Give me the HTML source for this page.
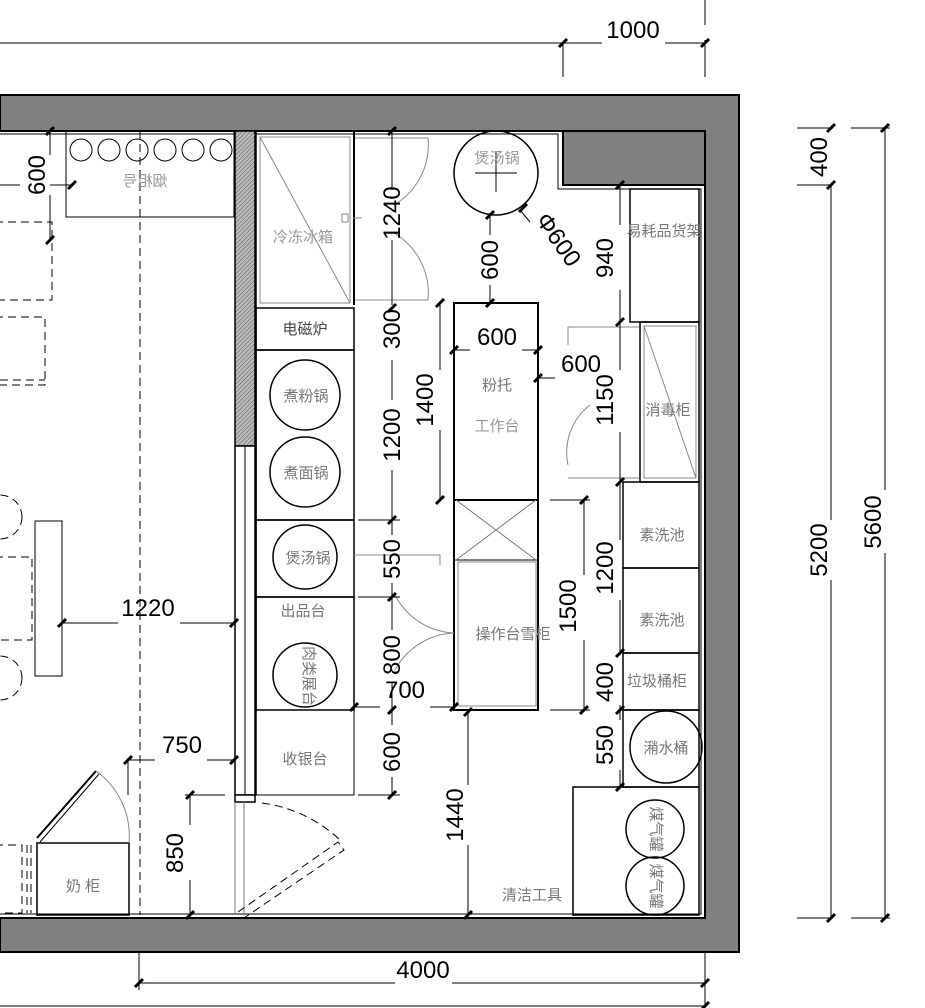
<!DOCTYPE html>
<html><head><meta charset="utf-8"><style>
html,body{margin:0;padding:0;background:#fff;width:925px;height:1008px;overflow:hidden}
svg{display:block}
text{font-family:"Liberation Sans","Noto Sans CJK SC",sans-serif}
.d{font-size:24px;fill:#000}
.l{font-size:15px;fill:#777}
</style></head><body>
<svg width="925" height="1008" viewBox="0 0 925 1008" xmlns="http://www.w3.org/2000/svg">
<defs>
<pattern id="h" width="3" height="3" patternUnits="userSpaceOnUse" patternTransform="rotate(45)"><rect width="3" height="3" fill="#bbb"/><line x1="0" y1="0" x2="0" y2="3" stroke="#555" stroke-width="1"/></pattern>
<g id="t"><line x1="-4" y1="4" x2="4" y2="-4" stroke="#000" stroke-width="3"/></g>
</defs>
<!-- walls -->
<path d="M0 95 H739 V952 H0 V918 H705 V131 H0 Z" fill="#808080" stroke="#000" stroke-width="2"/>
<rect x="563" y="131" width="142" height="54" fill="#808080" stroke="#000" stroke-width="2"/>
<path d="M0 134 H558 V189 H701 V914 H0" fill="none" stroke="#000" stroke-width="1"/>

<!-- top dim -->
<g stroke="#000" stroke-width="1" fill="none">
<line x1="0" y1="43" x2="602" y2="43"/><line x1="665" y1="43" x2="705" y2="43"/>
<line x1="563" y1="43" x2="563" y2="77"/><line x1="705" y1="0" x2="705" y2="25"/><line x1="705" y1="40" x2="705" y2="77"/>
<!-- bottom dim -->
<line x1="139" y1="983" x2="395" y2="983"/><line x1="452" y1="983" x2="705" y2="983"/>
<line x1="139" y1="952" x2="139" y2="990"/><line x1="705" y1="952" x2="705" y2="1008"/>
<line x1="0" y1="1006" x2="705" y2="1006"/>
<!-- right dims -->
<line x1="797" y1="128" x2="833" y2="128"/><line x1="851" y1="128" x2="890" y2="128"/>
<line x1="797" y1="185" x2="833" y2="185"/>
<line x1="831" y1="185" x2="831" y2="520"/><line x1="831" y1="580" x2="831" y2="918"/>
<line x1="885" y1="128" x2="885" y2="490"/><line x1="885" y1="553" x2="885" y2="918"/>
<line x1="797" y1="918" x2="833" y2="918"/><line x1="851" y1="918" x2="890" y2="918"/>
</g>
<use href="#t" x="563" y="43"/><use href="#t" x="705" y="43"/><use href="#t" x="139" y="983"/><use href="#t" x="705" y="983"/><use href="#t" x="705" y="1006"/>
<use href="#t" x="831" y="128"/><use href="#t" x="831" y="185"/><use href="#t" x="885" y="128"/><use href="#t" x="831" y="918"/><use href="#t" x="885" y="918"/>
<text class="d" x="633" y="38" text-anchor="middle">1000</text>
<text class="d" x="423" y="978" text-anchor="middle">4000</text>
<text class="d" transform="translate(827,157) rotate(-90)" text-anchor="middle">400</text>
<text class="d" transform="translate(827,550) rotate(-90)" text-anchor="middle">5200</text>
<text class="d" transform="translate(881,522) rotate(-90)" text-anchor="middle">5600</text>

<!-- partition -->
<rect x="235" y="131" width="20" height="315" fill="url(#h)" stroke="#000" stroke-width="1.5"/>
<rect x="235" y="446" width="20" height="349" fill="#fff" stroke="#000" stroke-width="1.5"/>
<line x1="245" y1="446" x2="245" y2="795" stroke="#000"/>
<rect x="235" y="795" width="20" height="7" fill="#fff" stroke="#000" stroke-width="1.5"/>
<line x1="235" y1="802" x2="235" y2="915" stroke="#777"/><line x1="244" y1="802" x2="244" y2="915" stroke="#777"/>

<g fill="none" stroke="#000" stroke-width="1.5">
<!-- left kitchen column -->
<line x1="256" y1="131" x2="256" y2="795"/>
<line x1="354" y1="131" x2="354" y2="305" stroke-width="2"/>
<rect x="256" y="308" width="98" height="42"/>
<rect x="256" y="350" width="98" height="170"/>
<rect x="256" y="520" width="98" height="77"/>
<rect x="256" y="597" width="98" height="113"/>
<rect x="256" y="710" width="98" height="85" stroke-width="1"/>
<circle cx="305" cy="395" r="35"/><circle cx="305" cy="472" r="35"/>
<circle cx="305" cy="557" r="32"/><circle cx="305" cy="675" r="32"/>
<!-- top pot -->
<circle cx="496" cy="173" r="42"/>
<!-- tables -->
<rect x="454" y="303" width="84" height="197" stroke-width="2"/>
<rect x="454" y="500" width="84" height="210" stroke-width="2"/>
<!-- right column -->
<rect x="630" y="189" width="69" height="133"/>
<rect x="640" y="322" width="59" height="160"/>
<rect x="623" y="482" width="76" height="86"/>
<rect x="623" y="568" width="76" height="85"/>
<rect x="623" y="653" width="76" height="57"/>
<rect x="623" y="710" width="76" height="77"/>
<circle cx="666" cy="747" r="36"/>
<rect x="573" y="787" width="126" height="128"/>
<circle cx="655" cy="829" r="29"/><circle cx="655" cy="886" r="29"/>
<!-- left area -->
<rect x="66" y="131" width="168" height="86" stroke-width="1"/>
<rect x="35" y="521" width="27" height="155" stroke-width="1"/>
<rect x="37" y="843" width="92" height="72"/>
<line x1="37" y1="838" x2="96" y2="771" stroke-width="2"/><line x1="40" y1="842" x2="99" y2="774" stroke-width="1"/>
</g>
<g fill="none" stroke="#000" stroke-width="1">
<circle cx="81" cy="150" r="11"/><circle cx="109" cy="150" r="11"/><circle cx="137" cy="150" r="11"/><circle cx="165" cy="150" r="11"/><circle cx="193" cy="150" r="11"/><circle cx="221" cy="150" r="11"/>
<line x1="475" y1="173" x2="517" y2="173"/><line x1="496" y1="152" x2="496" y2="192"/>
<line x1="454" y1="560" x2="538" y2="560"/>
<line x1="456" y1="500" x2="536" y2="560" stroke="#777"/><line x1="536" y1="500" x2="456" y2="560" stroke="#777"/>
</g>
<!-- gray inner items -->
<g fill="none" stroke="#888" stroke-width="1">
<rect x="260" y="137" width="90" height="166"/>
<line x1="260" y1="137" x2="350" y2="303"/>
<rect x="458" y="562" width="78" height="144"/>
<rect x="644" y="326" width="52" height="152"/>
<line x1="644" y1="326" x2="696" y2="478"/>
<path d="M355 138 H428 M428 138 A70 70 0 0 1 394 205 M394 233 A70 70 0 0 1 428 300 M355 300 H428"/>
<path d="M639 327 H568 V345 M568 465 A60 60 0 0 1 590 405 M568 478 H639"/>
<path d="M354 555 H440 V565 M395 595 A70 70 0 0 0 454 633 M395 670 A70 70 0 0 1 454 633"/>
<path d="M96 771 A80 80 0 0 1 129 843"/>
<line x1="353" y1="218" x2="362" y2="218"/>
</g>
<rect x="342" y="214" width="6" height="8" fill="#fff" stroke="#888"/>
<!-- dashed -->
<g fill="none" stroke="#000" stroke-width="1" stroke-dasharray="8,5">
<line x1="140" y1="131" x2="140" y2="915"/>
<rect x="-5" y="222" width="57" height="78"/>
<rect x="-5" y="317" width="50" height="68"/>
<line x1="0" y1="380" x2="45" y2="380"/>
<rect x="-5" y="557" width="37" height="83"/>
<circle cx="0" cy="517" r="22"/><circle cx="0" cy="678" r="22"/>
<rect x="-5" y="845" width="27" height="68"/><line x1="27" y1="845" x2="27" y2="913"/><line x1="31" y1="845" x2="31" y2="913"/>
<path d="M262 803 A140 140 0 0 1 340 840"/>
<path d="M238 912 L338 842 L344 850 L244 918"/>
</g>
<!-- dimension lines -->
<g stroke="#000" stroke-width="1" fill="none">
<line x1="392" y1="131" x2="392" y2="190"/><line x1="392" y1="240" x2="392" y2="305"/>
<line x1="392" y1="360" x2="392" y2="400"/><line x1="392" y1="470" x2="392" y2="520"/>
<line x1="392" y1="520" x2="392" y2="535"/><line x1="392" y1="583" x2="392" y2="630"/>
<line x1="392" y1="682" x2="392" y2="725"/><line x1="392" y1="777" x2="392" y2="795"/>
<line x1="358" y1="520" x2="400" y2="520"/><line x1="358" y1="597" x2="400" y2="597"/><line x1="358" y1="795" x2="400" y2="795"/>
<line x1="490" y1="215" x2="490" y2="235"/><line x1="490" y1="285" x2="490" y2="303"/>
<line x1="440" y1="303" x2="440" y2="370"/><line x1="440" y1="430" x2="440" y2="500"/>
<line x1="454" y1="350" x2="470" y2="350"/><line x1="522" y1="350" x2="538" y2="350"/>
<line x1="538" y1="378" x2="555" y2="378"/>
<line x1="584" y1="500" x2="584" y2="575"/><line x1="584" y1="640" x2="584" y2="710"/>
<line x1="550" y1="500" x2="590" y2="500"/><line x1="550" y1="710" x2="590" y2="710"/>
<line x1="620" y1="185" x2="620" y2="225"/><line x1="620" y1="290" x2="620" y2="370"/><line x1="620" y1="432" x2="620" y2="540"/>
<line x1="620" y1="600" x2="620" y2="655"/><line x1="620" y1="705" x2="620" y2="720"/><line x1="620" y1="770" x2="620" y2="787"/>
<line x1="354" y1="707" x2="380" y2="707"/><line x1="430" y1="707" x2="454" y2="707"/>
<line x1="468" y1="712" x2="468" y2="785"/><line x1="468" y1="845" x2="468" y2="915"/>
<line x1="50" y1="131" x2="50" y2="155"/><line x1="50" y1="195" x2="50" y2="240"/><line x1="0" y1="185" x2="20" y2="185"/><line x1="50" y1="185" x2="72" y2="185"/>
<line x1="62" y1="623" x2="118" y2="623"/><line x1="180" y1="623" x2="234" y2="623"/>
<line x1="128" y1="760" x2="155" y2="760"/><line x1="207" y1="760" x2="234" y2="760"/><line x1="128" y1="760" x2="128" y2="795"/>
<line x1="190" y1="795" x2="190" y2="825"/><line x1="190" y1="880" x2="190" y2="915"/><line x1="185" y1="795" x2="225" y2="795"/>
<line x1="520" y1="210" x2="530" y2="222"/>
</g>
<g>
<use href="#t" x="392" y="131"/><use href="#t" x="392" y="308"/><use href="#t" x="392" y="520"/><use href="#t" x="392" y="597"/><use href="#t" x="392" y="710"/><use href="#t" x="392" y="795"/>
<use href="#t" x="490" y="215"/><use href="#t" x="490" y="303"/><use href="#t" x="523" y="208"/>
<use href="#t" x="440" y="303"/><use href="#t" x="440" y="500"/><use href="#t" x="454" y="350"/><use href="#t" x="538" y="350"/><use href="#t" x="538" y="378"/>
<use href="#t" x="584" y="500"/><use href="#t" x="584" y="710"/>
<use href="#t" x="620" y="185"/><use href="#t" x="620" y="322"/><use href="#t" x="620" y="482"/><use href="#t" x="620" y="653"/><use href="#t" x="620" y="710"/><use href="#t" x="620" y="787"/>
<use href="#t" x="354" y="707"/><use href="#t" x="454" y="707"/><use href="#t" x="468" y="712"/><use href="#t" x="468" y="915"/>
<use href="#t" x="50" y="131"/><use href="#t" x="72" y="185"/><use href="#t" x="50" y="240"/>
<use href="#t" x="62" y="623"/><use href="#t" x="234" y="623"/><use href="#t" x="128" y="760"/><use href="#t" x="234" y="760"/>
<use href="#t" x="190" y="795"/><use href="#t" x="190" y="915"/>
</g>
<!-- dim texts -->
<g class="d">
<text transform="translate(400,213) rotate(-90)" text-anchor="middle">1240</text>
<text transform="translate(400,329) rotate(-90)" text-anchor="middle">300</text>
<text transform="translate(400,435) rotate(-90)" text-anchor="middle">1200</text>
<text transform="translate(400,559) rotate(-90)" text-anchor="middle">550</text>
<text transform="translate(400,655) rotate(-90)" text-anchor="middle">800</text>
<text transform="translate(400,752) rotate(-90)" text-anchor="middle">600</text>
<text transform="translate(498,260) rotate(-90)" text-anchor="middle">600</text>
<text transform="translate(433,400) rotate(-90)" text-anchor="middle">1400</text>
<text x="497" y="345" text-anchor="middle">600</text>
<text x="581" y="372" text-anchor="middle">600</text>
<text transform="translate(576,606) rotate(-90)" text-anchor="middle">1500</text>
<text transform="translate(613,258) rotate(-90)" text-anchor="middle">940</text>
<text transform="translate(613,400) rotate(-90)" text-anchor="middle">1150</text>
<text transform="translate(613,568) rotate(-90)" text-anchor="middle">1200</text>
<text transform="translate(613,682) rotate(-90)" text-anchor="middle">400</text>
<text transform="translate(613,745) rotate(-90)" text-anchor="middle">550</text>
<text x="405" y="698" text-anchor="middle">700</text>
<text transform="translate(463,815) rotate(-90)" text-anchor="middle">1440</text>
<text transform="translate(45,175) rotate(-90)" text-anchor="middle">600</text>
<text x="148" y="616" text-anchor="middle">1220</text>
<text x="182" y="753" text-anchor="middle">750</text>
<text transform="translate(183,853) rotate(-90)" text-anchor="middle">850</text>
<text transform="translate(535,220) rotate(55)">Φ600</text>
</g>
<!-- labels -->
<g class="l" text-anchor="middle">
<text x="303" y="242" fill="#999">冷冻冰箱</text>
<text x="305" y="334" fill="#444">电磁炉</text>
<text x="306" y="401">煮粉锅</text>
<text x="306" y="478">煮面锅</text>
<text x="308" y="563">煲汤锅</text>
<text x="303" y="616">出品台</text>
<text transform="translate(304,676) rotate(90)">肉类展台</text>
<text x="305" y="764">收银台</text>
<text x="497" y="163" fill="#999">煲汤锅</text>
<text x="497" y="390">粉托</text>
<text x="497" y="431" fill="#999">工作台</text>
<text x="513" y="639">操作台雪柜</text>
<text x="664" y="236">易耗品货架</text>
<text x="668" y="415">消毒柜</text>
<text x="662" y="540">素洗池</text>
<text x="662" y="625">素洗池</text>
<text x="657" y="686">垃圾桶柜</text>
<text x="666" y="753">潲水桶</text>
<text transform="translate(651,829) rotate(90)">煤气罐</text>
<text transform="translate(651,886) rotate(90)">煤气罐</text>
<text x="532" y="900">清洁工具</text>
<text x="145" y="186" fill="#999" transform="translate(290,0) scale(-1,1)">烟柜号</text>
<text x="83" y="891">奶 柜</text>
</g>
</svg>
</body></html>
